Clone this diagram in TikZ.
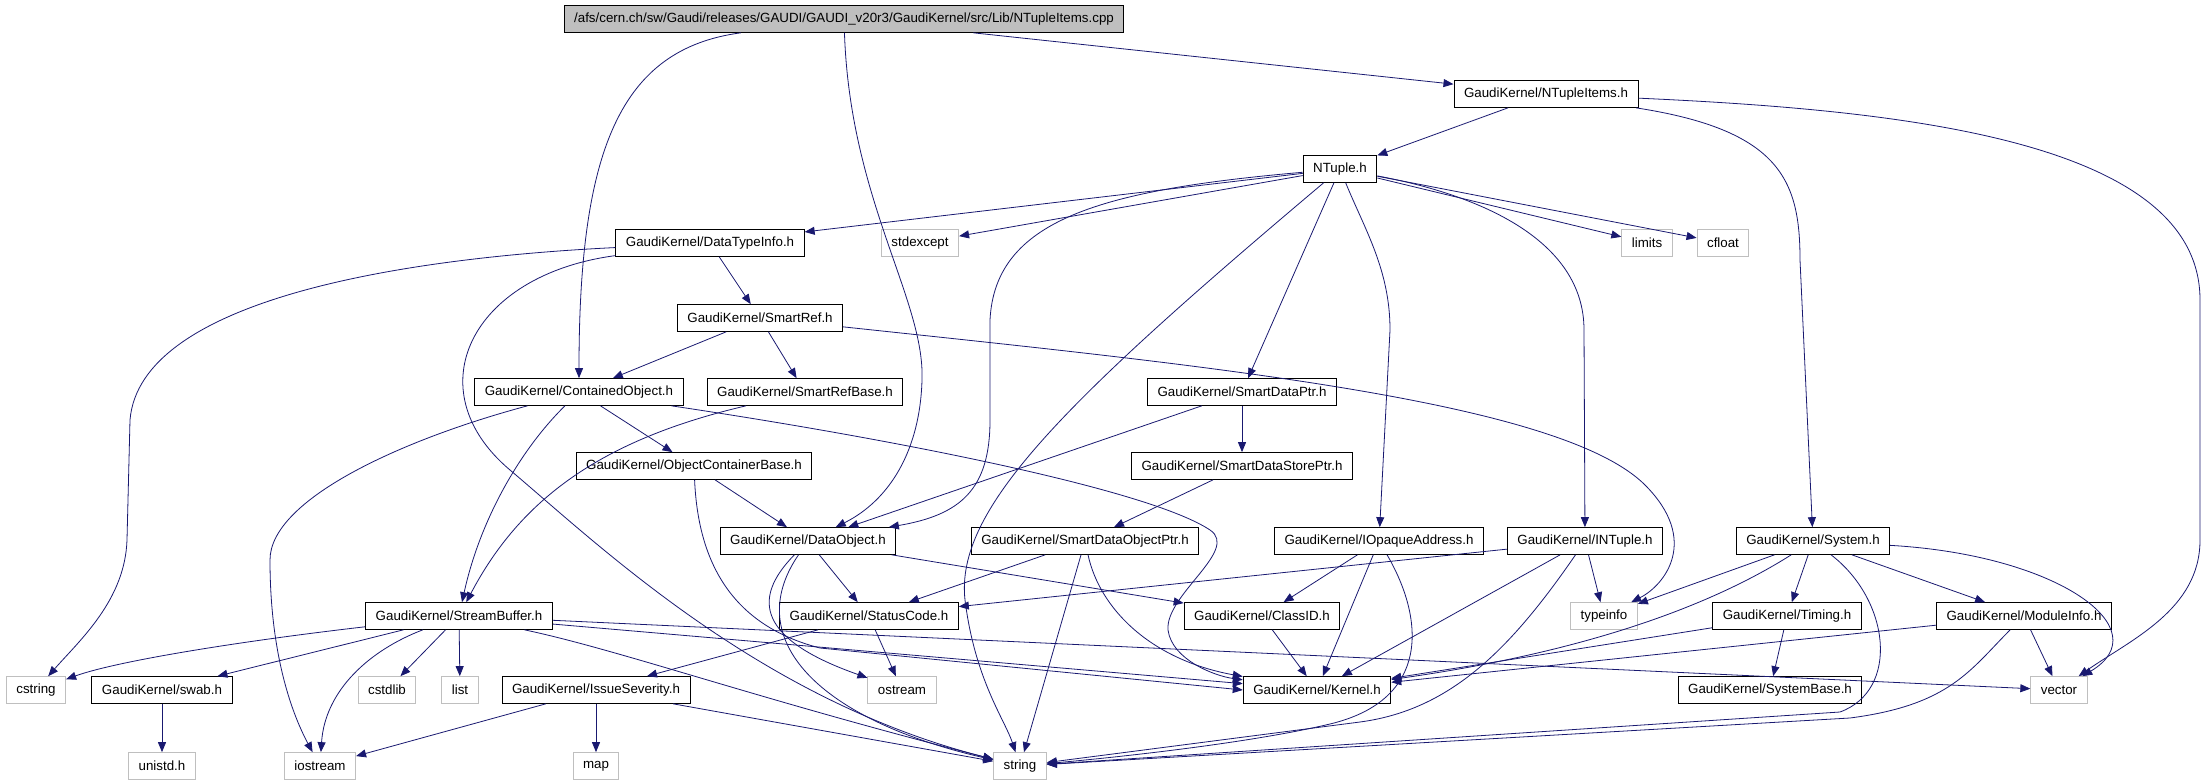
\documentclass[tikz,border=0pt]{standalone}
\usepackage{fontspec}
\setmainfont{Liberation Sans}
\usetikzlibrary{arrows.meta}
\definecolor{edgeblue}{HTML}{191970}
\definecolor{sysgray}{HTML}{BFBFBF}
\tikzset{
  file/.style={draw=black, rectangle, line width=0.75pt, minimum height=20pt,
    inner xsep=7.5pt, inner ysep=0pt, font=\fontsize{10}{12}\selectfont},
  sysfile/.style={file, draw=sysgray},
  mainfile/.style={file, fill=sysgray},
  dep/.style={draw=edgeblue, line width=0.6pt, -{Triangle[length=7.5pt,width=6pt]}}
}
\begin{document}
\begin{tikzpicture}[x=0.75pt,y=-0.75pt]
      \useasboundingbox (0,0) rectangle (2205,784);
      \draw
        (844,19) node[mainfile] (root){/afs/cern.ch/sw/Gaudi/releases/GAUDI/GAUDI\_v20r3/GaudiKernel/src/Lib/NTupleItems.cpp}
        (1546,94) node[file] (ntitems){GaudiKernel/NTupleItems.h}
        (1340,169) node[file] (ntuple){NTuple.h}
        (710,243) node[file] (dtinfo){GaudiKernel/DataTypeInfo.h}
        (920,243) node[sysfile] (stdexcept){stdexcept}
        (1647,243) node[sysfile] (limits){limits}
        (1723,243) node[sysfile] (cfloat){cfloat}
        (760,318) node[file] (smartref){GaudiKernel/SmartRef.h}
        (579,392) node[file] (cobj){GaudiKernel/ContainedObject.h}
        (805,392) node[file] (srbase){GaudiKernel/SmartRefBase.h}
        (1242,392) node[file] (sdptr){GaudiKernel/SmartDataPtr.h}
        (694,466) node[file] (ocbase){GaudiKernel/ObjectContainerBase.h}
        (1242,466) node[file] (sdsptr){GaudiKernel/SmartDataStorePtr.h}
        (808,541) node[file] (dobj){GaudiKernel/DataObject.h}
        (1085,541) node[file] (sdoptr){GaudiKernel/SmartDataObjectPtr.h}
        (1379,541) node[file] (ioaddr){GaudiKernel/IOpaqueAddress.h}
        (1585,541) node[file] (intuple){GaudiKernel/INTuple.h}
        (1813,541) node[file] (system){GaudiKernel/System.h}
        (459,616) node[file] (sbuffer){GaudiKernel/StreamBuffer.h}
        (869,616) node[file] (scode){GaudiKernel/StatusCode.h}
        (1262,616) node[file] (classid){GaudiKernel/ClassID.h}
        (1604,616) node[sysfile] (typeinfo){typeinfo}
        (1787,616) node[file] (timing){GaudiKernel/Timing.h}
        (2024,616) node[file] (modinfo){GaudiKernel/ModuleInfo.h}
        (36,690) node[sysfile] (cstring){cstring}
        (162,690) node[file] (swab){GaudiKernel/swab.h}
        (387,690) node[sysfile] (cstdlib){cstdlib}
        (460,690) node[sysfile] (list){list}
        (596,690) node[file] (issue){GaudiKernel/IssueSeverity.h}
        (902,690) node[sysfile] (ostream){ostream}
        (1317,690) node[file] (kernel){GaudiKernel/Kernel.h}
        (1770,690) node[file] (sysbase){GaudiKernel/SystemBase.h}
        (2059,690) node[sysfile] (vector){vector}
        (162,766) node[sysfile] (unistd){unistd.h}
        (320,766) node[sysfile] (iostream){iostream}
        (596,766) node[sysfile] (map){map}
        (1020,766) node[sysfile] (string){string};
      \begin{scope}[dep]
        \draw (root) -- (ntitems);
        \draw (root) .. controls (620,49) and (579,150) .. (cobj);
        \draw (root) .. controls (850,200) and (925,300) .. (922,380) .. controls (920,450) and (890,500) .. (dobj);
        \draw (ntitems) -- (ntuple);
        \draw (ntitems) .. controls (1780,130) and (1800,180) .. (1800,260) -- (system);
        \draw (ntitems) .. controls (1900,110) and (2200,140) .. (2200,300) -- (2200,540) .. controls (2200,610) and (2130,640) .. (vector);
        \draw (ntuple) -- (dtinfo);
        \draw (ntuple) -- (stdexcept);
        \draw (ntuple) -- (limits);
        \draw (ntuple) -- (cfloat);
        \draw (ntuple) .. controls (1100,190) and (995,220) .. (990,320) -- (990,420) .. controls (990,490) and (960,515) .. (dobj);
        \draw (ntuple) .. controls (1060,405) and (955,510) .. (965,600) .. controls (975,680) and (1005,720) .. (string);
        \draw (ntuple) -- (sdptr);
        \draw (ntuple) .. controls (1365,230) and (1390,270) .. (1390,330) -- (ioaddr);
        \draw (ntuple) .. controls (1480,195) and (1584,240) .. (1584,330) -- (intuple);
        \draw (dtinfo) -- (smartref);
        \draw (dtinfo) .. controls (400,258) and (140,300) .. (130,420) -- (127,540) .. controls (125,600) and (80,640) .. (cstring);
        \draw (dtinfo) .. controls (470,275) and (415,390) .. (510,470) .. controls (600,546) and (760,700) .. (string);
        \draw (smartref) -- (cobj);
        \draw (smartref) -- (srbase);
        \draw (smartref) .. controls (1200,365) and (1560,400) .. (1645,485) .. controls (1700,540) and (1665,585) .. (typeinfo);
        \draw (cobj) .. controls (400,440) and (270,500) .. (270,560) .. controls (270,650) and (290,710) .. (iostream);
        \draw (cobj) .. controls (520,450) and (480,520) .. (sbuffer);
        \draw (cobj) -- (ocbase);
        \draw (cobj) .. controls (900,440) and (1150,490) .. (1210,530) .. controls (1240,550) and (1165,595) .. (1168,630) .. controls (1172,660) and (1215,676) .. (kernel);
        \draw (srbase) .. controls (600,440) and (520,500) .. (sbuffer);
        \draw (ocbase) -- (dobj);
        \draw (ocbase) .. controls (698,560) and (730,625) .. (820,648) -- (kernel.west);
        \draw (dobj) .. controls (750,600) and (760,640) .. (ostream);
        \draw (dobj) .. controls (740,640) and (820,720) .. (string);
        \draw (dobj) -- (scode);
        \draw (dobj) -- (classid);
        \draw (sdptr) -- (sdsptr);
        \draw (sdptr) -- (dobj);
        \draw (sdsptr) -- (sdoptr);
        \draw (sdoptr) -- (scode);
        \draw (sdoptr) -- (string);
        \draw (sdoptr) .. controls (1100,610) and (1152,660) .. (kernel);
        \draw (ioaddr) -- (classid);
        \draw (ioaddr) -- (kernel);
        \draw (ioaddr) .. controls (1425,620) and (1430,700) .. (1330,724) .. controls (1250,743) and (1120,757) .. (string);
        \draw (intuple) -- (scode);
        \draw (intuple) -- (typeinfo);
        \draw (intuple) -- (kernel);
        \draw (intuple) .. controls (1510,650) and (1450,710) .. (1360,722) -- (string);
        \draw (system) -- (typeinfo);
        \draw (system) .. controls (1720,600) and (1600,650) .. (kernel);
        \draw (system) -- (timing);
        \draw (system) .. controls (1890,600) and (1900,690) .. (1840,712) -- (string);
        \draw (system) -- (modinfo);
        \draw (system) .. controls (2060,555) and (2160,630) .. (vector);
        \draw (timing) -- (kernel);
        \draw (timing) -- (sysbase);
        \draw (modinfo) -- (kernel);
        \draw (modinfo) .. controls (1970,670) and (1950,705) .. (1850,718) -- (string);
        \draw (modinfo) -- (vector);
        \draw (scode) -- (ostream);
        \draw (scode) -- (issue);
        \draw (classid) -- (kernel);
        \draw (sbuffer) .. controls (250,640) and (120,660) .. (cstring);
        \draw (sbuffer) -- (swab);
        \draw (sbuffer) .. controls (370,650) and (325,690) .. (iostream);
        \draw (sbuffer) -- (cstdlib);
        \draw (sbuffer) -- (list);
        \draw (sbuffer) .. controls (620,650) and (760,700) .. (string);
        \draw (sbuffer) -- (kernel);
        \draw (sbuffer) -- (vector);
        \draw (issue) -- (iostream);
        \draw (issue) -- (map);
        \draw (issue) -- (string);
        \draw (swab) -- (unistd);
      \end{scope}
    \end{tikzpicture}
\end{document}
